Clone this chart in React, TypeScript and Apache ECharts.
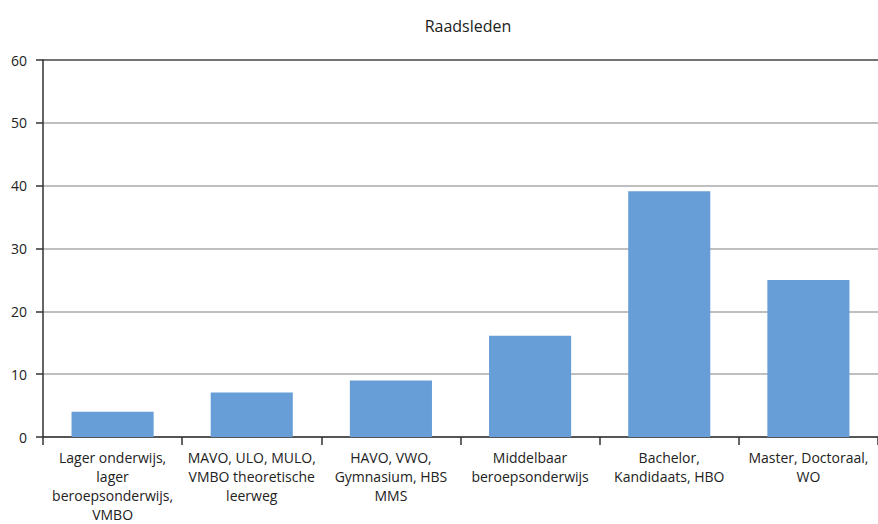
import React, { useEffect, useRef } from "react";
import * as echarts from "echarts";

const title = "Raadsleden";
const categories = [
  "Lager onderwijs,\nlager\nberoepsonderwijs,\nVMBO",
  "MAVO, ULO, MULO,\nVMBO theoretische\nleerweg",
  "HAVO, VWO,\nGymnasium, HBS\nMMS",
  "Middelbaar\nberoepsonderwijs",
  "Bachelor,\nKandidaats, HBO",
  "Master, Doctoraal,\nWO",
];
const values = [4, 7.1, 9, 16.1, 39.1, 25];
const yTicks = { min: 0, max: 60, interval: 10 };

export default function App() {
  const ref = useRef<HTMLDivElement>(null);
  useEffect(() => {
    if (!ref.current) return;
    const chart = echarts.init(ref.current, undefined, { renderer: "svg" });
    const font = "Open Sans";
    chart.setOption({
      animation: false,
      title: {
        text: title,
        left: 463,
        textAlign: "center",
        top: 13,
        textStyle: { fontFamily: font, fontSize: 16, fontWeight: "normal", color: "#222" },
      },
      grid: { left: 43, top: 60, right: -6, bottom: 85, containLabel: false },
      xAxis: {
        type: "category",
        data: categories,
        axisLine: { lineStyle: { color: "#333", width: 1.5 } },
        axisTick: { show: true, length: 8, alignWithLabel: false, lineStyle: { color: "#333", width: 1.5 } },
        axisLabel: {
          interval: 0,
          margin: 11,
          fontFamily: font,
          fontSize: 14,
          lineHeight: 19,
          color: "#222",
        },
      },
      yAxis: {
        type: "value",
        min: yTicks.min,
        max: yTicks.max,
        interval: yTicks.interval,
        axisLine: { show: true, lineStyle: { color: "#333", width: 1.5 } },
        axisTick: { show: true, length: 7, lineStyle: { color: "#333", width: 1.5 } },
        axisLabel: { margin: 16, fontFamily: font, fontSize: 14, color: "#222" },
        splitLine: {
          show: true,
          lineStyle: {
            color: ["#aaa", "#aaa", "#aaa", "#aaa", "#aaa", "#aaa", "#444"],
            width: 1.5,
          },
        },
      },
      series: [
        {
          type: "bar",
          data: values,
          barCategoryGap: "41%",
          itemStyle: { color: "#689ed7" },
        },
      ],
    });
    return () => chart.dispose();
  }, []);
  return <div ref={ref} style={{ width: 878, height: 524, position: "absolute", left: 0, top: 0 }} />;
}
